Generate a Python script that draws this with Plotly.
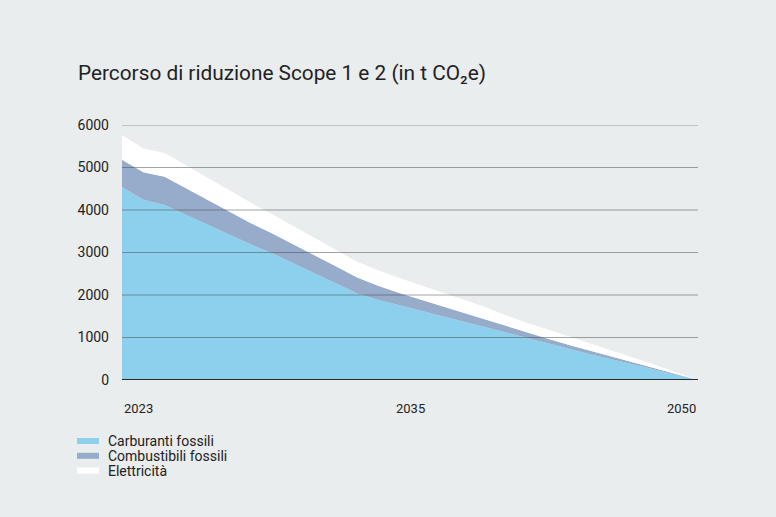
import plotly.graph_objects as go

years = list(range(2023, 2051))

carburanti = [4540, 4240, 4120, 3890, 3660, 3430, 3200, 2990, 2760, 2520,
              2280, 2040, 1890, 1760, 1630, 1500, 1370, 1240, 1110, 980,
              850, 720, 600, 480, 360, 240, 120, 0]
combustibili = [640, 650, 660, 620, 580, 540, 500, 470, 445, 420,
                400, 380, 330, 290, 260, 240, 215, 190, 160, 130,
                115, 100, 85, 70, 50, 35, 15, 0]
elettricita = [585, 560, 560, 540, 520, 500, 480, 450, 430, 410,
               390, 370, 360, 350, 340, 325, 310, 295, 250, 230,
               220, 200, 175, 150, 115, 80, 40, 0]

y_ticks = [0, 1000, 2000, 3000, 4000, 5000, 6000]
x_labels = ["2023", "2035", "2050"]
series_names = ["Carburanti fossili", "Combustibili fossili", "Elettricità"]
title_text = "Percorso di riduzione Scope 1 e 2 (in t CO₂e)"

colors = ["#8cd0ee", "#97acca", "#ffffff"]
BG = "#eaedee"
FONT = "Roboto"
TXT = "#222222"

# plot area geometry (px)
PL, PR, PT, PB = 122, 78, 125, 137
PW, PH = 776 - PL - PR, 517 - PT - PB
BOTTOM = PT + PH

fig = go.Figure()
for name, vals, col in zip(series_names, [carburanti, combustibili, elettricita], colors):
    fig.add_trace(go.Scatter(
        x=years, y=vals, name=name, mode="lines",
        stackgroup="one", line=dict(width=0, color=col),
        fillcolor=col, hoverinfo="skip", showlegend=False,
    ))

shapes = []
for t in y_ticks[1:]:
    shapes.append(dict(type="line", xref="paper", x0=0, x1=1, yref="y", y0=t, y1=t,
                       line=dict(color="rgba(70,72,74,0.5)", width=1), layer="above"))
shapes.append(dict(type="line", xref="paper", x0=0, x1=1, yref="y", y0=0, y1=0,
                   line=dict(color="#2b2b2b", width=2.2), layer="above"))

annotations = []
for lbl, px, anc in zip(x_labels, [0, 0.5, 1], ["left", "center", "right"]):
    annotations.append(dict(text=lbl, xref="paper", x=px, xanchor=anc,
                            yref="paper", y=-(408 - BOTTOM) / PH,
                            yanchor="middle", showarrow=False,
                            font=dict(size=13, color=TXT, family=FONT)))

# manual legend
for i, (name, col) in enumerate(zip(series_names, colors)):
    cy = 441 + i * 14.8
    shapes.append(dict(type="rect", xref="paper", yref="paper",
                       x0=(77 - PL) / PW, x1=(99 - PL) / PW,
                       y0=-(cy + 3 - BOTTOM) / PH, y1=-(cy - 3 - BOTTOM) / PH,
                       fillcolor=col, line=dict(width=0), layer="above"))
    annotations.append(dict(text=name, xref="paper", yref="paper",
                            x=(106 - PL) / PW, xanchor="left",
                            y=-(cy - BOTTOM) / PH, yanchor="middle",
                            showarrow=False,
                            font=dict(size=14, color=TXT, family=FONT)))

fig.update_layout(
    width=776, height=517,
    paper_bgcolor=BG, plot_bgcolor=BG,
    margin=dict(l=PL, r=PR, t=PT, b=PB),
    font=dict(family=FONT, color=TXT, size=14),
    title=dict(text=title_text, x=78/776, xanchor="left", xref="container",
               y=1 - 73/517, yanchor="middle", yref="container",
               font=dict(size=20.8, color=TXT, family=FONT)),
    xaxis=dict(range=[2023, 2050], showgrid=False, zeroline=False,
               showticklabels=False, showline=False, fixedrange=True),
    yaxis=dict(range=[0, 6000], tickvals=y_ticks, showgrid=False, zeroline=False,
               showline=False, ticks="", ticklabelstandoff=12, fixedrange=True,
               tickfont=dict(size=14, color=TXT, family=FONT)),
    showlegend=False,
    shapes=shapes,
    annotations=annotations,
)

fig.write_html("out.html",
               config={"displayModeBar": False},
               post_script="document.body.style.margin='0';document.body.style.background='#eaedee';")
